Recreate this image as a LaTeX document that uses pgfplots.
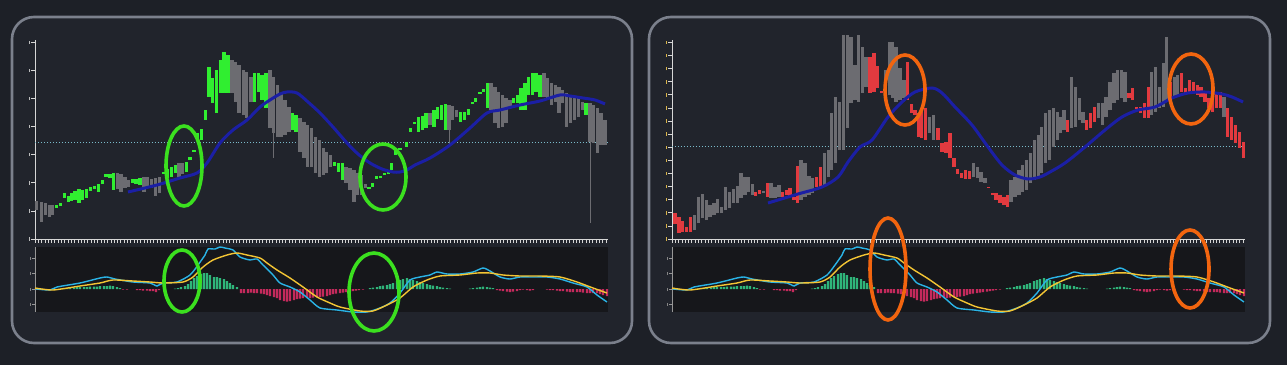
\documentclass[border=0pt]{standalone}
\usepackage{pgfplots}
\pgfplotsset{compat=1.18}
\usepackage{pgfplotstable}
\definecolor{bgc}{HTML}{1D2027}
\definecolor{panelfill}{HTML}{21242C}
\definecolor{panelc}{HTML}{7B808C}
\definecolor{axc}{HTML}{D6D6D6}
\definecolor{gbar}{HTML}{30EE30}
\definecolor{graybar}{HTML}{6C6C71}
\definecolor{rbar}{HTML}{E23A3F}
\definecolor{mablue}{HTML}{1B1FA5}
\definecolor{dotc}{HTML}{7ABACA}
\definecolor{macdbg}{HTML}{16171B}
\definecolor{cyanl}{HTML}{2AB3E6}
\definecolor{yell}{HTML}{F3C534}
\definecolor{hgreen}{HTML}{2FB57A}
\definecolor{hred}{HTML}{C42A5C}
\definecolor{ellg}{HTML}{3BE01F}
\definecolor{ello}{HTML}{F2650F}
\definecolor{labw}{HTML}{BDBDBD}
\definecolor{laby}{HTML}{D9B44A}

% left panel candles: x lo hi
\pgfplotstableread{
x lo hi
1.7 30 39
6.7 18 38
10.7 25 37
14.3 23 35
17.7 25 35
82.3 51 67
86 48 66
90 52 63
93.7 53 60
109 48 63
112.7 52 63
116.7 52 61
120.7 44 62
124.3 47 63
144 63 77
147.7 66 77
197 147 180
200.7 138 178
204 127 175
208.3 125 170
211.7 122 168
216 138 163
235 112 170
238.3 107 163
242.3 103 155
246 103 147
250 105 140
254 108 133
265 88 122
269 82 118
272.7 73 115
276.7 73 112
280.7 67 103
284.3 63 100
288.3 65 92
291.7 67 88
295.7 73 85
311 57 73
315 50 72
319 38 70
322.7 45 67
326.7 45 65
330.7 52 56
395 115 127
414 110 135
417.7 120 134
421.7 123 130
456 130 157
460 117 153
463.3 112 148
467.3 113 145
471 117 142
475 132 140
509 143 167
512.7 140 162
516.7 135 157
520.7 138 155
524 127 153
527.7 137 150
531.7 113 147
535.7 117 145
539.3 120 143
543.3 123 142
547.3 130 138
555 98 137
558.3 97 135
562.3 87 132
566 95 127
570 95 120
}\LGray

\pgfplotstableread{
x lo hi
21.7 32 35
25.7 34 37
29.7 42 47
33.3 38 44
36.7 39 47
40 40 49
44 37 51
47.7 40 50
51.7 42 51
55.7 49 53
59.3 51 54
63.3 48 56
67.3 56 60
71 63 66
75 62 66
78.3 50 67
97.7 57 61
101 56 61
105 55 62
128.3 66 68
132.3 62 71
136.3 63 73
140.3 67 75
151.7 68 78
155 80 83
159 88 89.5
162.3 99 107
166.3 100 111
170.3 120 130
174 143 173
177.7 137 162
181.7 127 170
185.7 147 180
189 147 188
193 147 185
219.3 138 167
223.3 148 167
227 140 165
231 132 167
257.7 110 127
261 108 125
299.3 74 78
303.3 68 77
307.3 60 77
334 51 53
337.7 53 57
341.7 61 64
345.7 62 64
349.3 65 67
353.3 66 68
356.7 70 77
360.7 85 90
365 90 92
371.7 93 98
375.7 108 112
379.3 116 118
383.3 108 123
387.3 110 124
391 112 127
399 113 130
402.7 121 133
406.7 120 135
410.7 110 136
425.7 118 128
429.3 120 128
433.3 125 131
437.3 136 138
440.7 138 142
445 146 148
448.3 148 151
452.3 132 157
478.3 137 142
482.3 137 145
486 130 152
490 130 157
493.3 145 163
497.3 145 167
501 148 167
505 143 165
551 125 137
}\LGreen

\pgfplotstableread{
x lo hi
238.3 82 107
414 95 110
555 17 98
}\LWick

% right panel candles
\pgfplotstableread{
x lo hi
22.3 10 25
26.3 17 43
30.3 22 46
34.3 20 40
38 23 35
42 25 37
45.7 27 41
49.7 27 33
53.7 30 53
57.3 32 48
61.3 37 51
65.3 37 54
69 42 67
73 45 63
76.3 48 63
80.3 45 56
91.3 47 49
99 42 57
103 42 53
107 43 55
129 40 80
133 43 77
137 45 64
140.7 47 62
152.3 55 87
156.3 63 90
159.7 70 127
163.7 77 143
167.7 90 138
171.3 90 205
175.3 112 205
179 137 203
183 140 175
186.3 138 205
190.3 147 193
194 153 183
213.7 145 170
217.3 145 198
220.3 142 198
224 138 193
228 140 172
232 142 160
257.3 107 123
261.3 100 125
301.3 63 77
305.3 62 73
309 58 68
313 57 62
339 38 60
343 43 63
347 45 70
350.7 48 75
354.7 50 80
358.7 57 87
362.3 60 100
366.3 62 105
369.7 67 113
373.7 77 127
377.3 80 130
381.3 93 132
385.3 100 128
388.7 107 123
392 110 130
399.7 112 163
403.7 113 153
407.3 120 142
411 117 128
426.3 122 137
430.3 115 137
434 123 143
438 130 158
442 137 167
445.7 140 170
449.7 142 170
453 138 168
479.7 125 168
483.7 128 173
487.3 132 153
491.3 133 177
494.7 140 203
502.3 143 163
505.7 145 165
552 123 143
}\RGray

\pgfplotstableread{
x lo hi
3 16 27
7 7 23
10.7 8 19
14.7 8 13
18.7 8 23
83.7 44 48
87.7 46 50
95.3 43 57
110.7 43 48
114.7 45 50
118 44 52
122 40 43
125.3 37 74
144.7 53 63
148.7 53 73
198 147 183
202 148 187
205.7 152 174
209.7 147 149
235.7 140 178
239.7 127 136
243 125 130
246.3 103 127
249.7 102 132
253.7 100 132
266 100 112
270 88 97
274 87 98
278 82 107
282 73 82
285.7 66 71
289.7 62 67
293.7 61 70
297.3 61 69
316.3 52 53
320.3 45 47
324 40 47
328 37 45
332 35 43
335.3 33 45
395.7 108 120
414.7 110 120
418.7 112 127
422.3 118 133
457 142 147
460.7 140 152
464.7 131 133
468.7 127 133
472.3 122 137
476.3 122 153
498.7 140 158
509.7 148 167
513.7 147 152
517.3 148 160
521.3 147 158
525.3 145 155
529 143 153
533 138 148
537 132 142
540.7 128 148
544.7 132 148
548.7 132 148
555.7 103 132
559.7 100 123
563.7 97 115
567.3 92 108
571.3 82 98
}\RRed

% MACD (shared by both panels)
\pgfplotstableread{
x v
1 0
15 -1
22 2
45 6
65 11
72 12
80 10
98 7
115 6
122 3
128 6
142 7
155 14
163 24
170 34
173 40
180 40
185 42
190 41
198 39
205 32
215 29
222 30
228 24
238 14
245 6
255 2
265 -3
275 -11
285 -19
302 -21
318 -23
332 -23
345 -19
355 -14
365 -4
375 9
385 12
395 14
402 17
412 15
425 15
438 17
448 21
455 18
465 12
475 10
485 12
498 12
512 12
525 10
538 6
552 2
562 -6
572 -13
}\MacdLine

\pgfplotstableread{
x v
0 1
18 -1
45 3
65 6
78 9
98 8
115 7
128 6
148 7
158 12
168 22
178 29
192 34
202 36
212 34
225 31
232 26
242 19
255 11
268 2
282 -8
295 -14
305 -18
325 -22
338 -22
352 -16
365 -9
378 2
392 9
405 13
425 14
442 16
455 16
468 14
485 13
505 13
525 12
542 7
558 1
572 -4
}\SigLine

\pgfplotstableread{
x h
26 0.5
29 1
32 1
35 1.5
39 1.5
42 2
45 2
49 2
52 2
55 2.5
59 2.5
62 2.5
65 3
69 3
72 3
75 3.5
78 3
82 2
85 1
140 0.5
143 1
146 2
150 3
153 5
156 8
159 11
162 13
166 15
169 16
172 16
175 14
179 12
182 12
185 11
189 10
192 8
195 6
198 4
202 2
335 1
338 1.5
342 2
345 3
348 3.5
352 4
355 5
358 6
362 8
365 9
368 10
372 11
375 10
378 9
382 8
385 7
388 6
392 5
395 4
398 3.5
402 3
405 2
408 1.5
412 1
415 0.5
435 0.5
438 1
442 1.5
445 2
448 2.5
452 2
455 1.5
458 1
}\HistPos

\pgfplotstableread{
x h
88 -0.5
92 -0.5
102 -1
105 -1
108 -1.5
112 -1.5
115 -2
118 -2
121 -3
124 -1
206 -4
209 -4
213 -4
216 -3.5
219 -4
222 -4
226 -4.5
229 -5
232 -6
235 -7
239 -8
242 -9
245 -11
249 -12
252 -12.5
255 -12
259 -11
262 -10
265 -9.5
268 -9
272 -9
275 -9
278 -8.5
282 -8
285 -8
288 -7.5
292 -7
295 -6
298 -5
301 -4.5
305 -4
308 -3.5
311 -3
315 -2.5
318 -2
321 -1.5
324 -1
328 -0.5
462 -1
465 -1.5
468 -2
472 -2.5
475 -3
478 -2.5
482 -2
485 -1
488 -0.5
492 -1
495 -1.5
498 -1
512 -0.5
515 -1
518 -1
522 -1.5
525 -2
528 -2
532 -2.5
535 -3
538 -3
542 -3
545 -3
548 -3.5
552 -4
555 -4
558 -4
562 -4
565 -5
568 -6
572 -7
}\HistNeg

\pgfplotsset{
  candle/.style={only marks, mark size=0pt, mark options={draw=none, fill=none}, forget plot,
    error bars/.cd, y dir=plus, y explicit, error mark=none,
    error bar style={line width=3.3bp, color=#1}},
  wick/.style={only marks, mark size=0pt, mark options={draw=none, fill=none}, forget plot,
    error bars/.cd, y dir=plus, y explicit, error mark=none,
    error bar style={line width=1bp, color=#1}},
  upper/.style={scale only axis, width=573bp, height=199bp,
    xmin=0, xmax=573, ymin=1, ymax=200, clip=false, anchor=south west,
    axis x line*=bottom, axis y line*=left,
    axis line style={axc, line width=1bp},
    xtick={0,3.3,...,573}, xticklabels={},
    tick align=outside, major tick length=4bp,
    x tick style={axc, line width=0.7bp},
    y tick style={axc, line width=0.8bp},
    yticklabel style={inner sep=1.5bp}},
  macd/.style={scale only axis, width=573bp, height=65bp,
    xmin=0, xmax=573, ymin=-23, ymax=42, clip=false, anchor=south west,
    axis x line=none, axis y line*=left,
    axis line style={axc!70!black, line width=0.8bp},
    axis background/.style={fill=macdbg},
    ytick={-15,0,16,31}, tick align=outside, major tick length=3bp,
    y tick style={axc!70!black, line width=0.7bp},
    yticklabel style={inner sep=1.5bp}},
}

\begin{document}
\begin{tikzpicture}[x=1bp,y=1bp]
\fill[bgc] (0,0) rectangle (1287,365);
\draw[panelc, line width=2.6bp, fill=panelfill, rounded corners=22bp] (12,22) rectangle (632,348);
\draw[panelc, line width=2.6bp, fill=panelfill, rounded corners=22bp] (649,22) rectangle (1270,348);

% ---------- left upper ----------
\begin{axis}[upper, at={(35bp,126bp)},
  ytick={1,29.1,...,200},
  yticklabel={\textcolor{labw}{\rule{0.8bp}{3.5bp}}}]
\addplot[dotc, dotted, line width=1bp] coordinates {(0,97) (573,97)};
\addplot[candle=graybar] table[x=x, y=lo, y error expr=\thisrow{hi}-\thisrow{lo}] {\LGray};
\addplot[wick=graybar] table[x=x, y=lo, y error expr=\thisrow{hi}-\thisrow{lo}] {\LWick};
\addplot[candle=gbar] table[x=x, y=lo, y error expr=\thisrow{hi}-\thisrow{lo}] {\LGreen};
\addplot[mablue, line width=3bp, smooth, tension=0.5] coordinates {
(93,48) (122,55) (145,62) (162,67) (172,77) (185,97) (198,110) (212,120) (225,133)
(235,140) (245,146) (252,148) (262,147) (273,138) (285,127) (298,113) (312,97)
(323,86) (335,77) (347,71) (358,68) (365,68) (372,70) (380,75) (395,82) (415,95)
(435,112) (452,127) (465,130) (485,135) (505,139) (525,145) (535,144) (548,142)
(560,140) (570,136)};
\draw[ellg, line width=3.6bp] (axis cs:149,74) ellipse [x radius=18bp, y radius=40bp];
\draw[ellg, line width=3.6bp] (axis cs:348,63) ellipse [x radius=23bp, y radius=33bp];
\end{axis}

% ---------- left MACD ----------
\begin{axis}[macd, at={(35bp,53bp)},
  yticklabel={\textcolor{labw!70!black}{\rule{0.7bp}{3bp}}}]
\addplot[ybar, bar width=2.4bp, bar shift=0pt, fill=hgreen, draw=none] table[x=x, y=h] {\HistPos};
\addplot[ybar, bar width=2.4bp, bar shift=0pt, fill=hred, draw=none] table[x=x, y=h] {\HistNeg};
\addplot[cyanl, line width=1.4bp, smooth, tension=0.4] table[x=x, y=v] {\MacdLine};
\addplot[yell, line width=1.4bp, smooth, tension=0.4] table[x=x, y=v] {\SigLine};
\draw[ellg, line width=3.6bp] (axis cs:147,8) ellipse [x radius=18bp, y radius=31bp];
\draw[ellg, line width=3.6bp] (axis cs:339,-3) ellipse [x radius=25bp, y radius=39bp];
\end{axis}

% ---------- right upper ----------
\begin{axis}[upper, at={(672bp,126bp)},
  ytick={1,14.1,...,200},
  yticklabel={\textcolor{laby}{\rule{0.8bp}{3.5bp}}}]
\addplot[dotc, dotted, line width=1bp] coordinates {(0,93) (573,93)};
\addplot[candle=graybar] table[x=x, y=lo, y error expr=\thisrow{hi}-\thisrow{lo}] {\RGray};
\addplot[candle=rbar] table[x=x, y=lo, y error expr=\thisrow{hi}-\thisrow{lo}] {\RRed};
\addplot[mablue, line width=3bp, smooth, tension=0.5] coordinates {
(96,37) (126,46) (150,53) (166,63) (176,78) (188,93) (200,100) (216,123) (230,138)
(243,148) (260,152) (270,147) (283,133) (300,115) (316,93) (330,75) (343,65)
(356,61) (368,63) (378,68) (393,77) (413,93) (433,110) (450,123) (466,130)
(483,133) (500,142) (516,147) (533,148) (550,146) (560,143) (571,138)};
\draw[ello, line width=3.6bp] (axis cs:233,150) ellipse [x radius=20bp, y radius=35bp];
\draw[ello, line width=3.6bp] (axis cs:519,151) ellipse [x radius=22bp, y radius=35bp];
\end{axis}

% ---------- right MACD ----------
\begin{axis}[macd, at={(672bp,53bp)},
  yticklabel={\textcolor{labw!70!black}{\rule{0.7bp}{3bp}}}]
\addplot[ybar, bar width=2.4bp, bar shift=0pt, fill=hgreen, draw=none] table[x=x, y=h] {\HistPos};
\addplot[ybar, bar width=2.4bp, bar shift=0pt, fill=hred, draw=none] table[x=x, y=h] {\HistNeg};
\addplot[cyanl, line width=1.4bp, smooth, tension=0.4] table[x=x, y=v] {\MacdLine};
\addplot[yell, line width=1.4bp, smooth, tension=0.4] table[x=x, y=v] {\SigLine};
\draw[ello, line width=3.6bp] (axis cs:216,20) ellipse [x radius=18bp, y radius=51bp];
\draw[ello, line width=3.6bp] (axis cs:518,20) ellipse [x radius=19bp, y radius=39bp];
\end{axis}
\end{tikzpicture}
\end{document}
